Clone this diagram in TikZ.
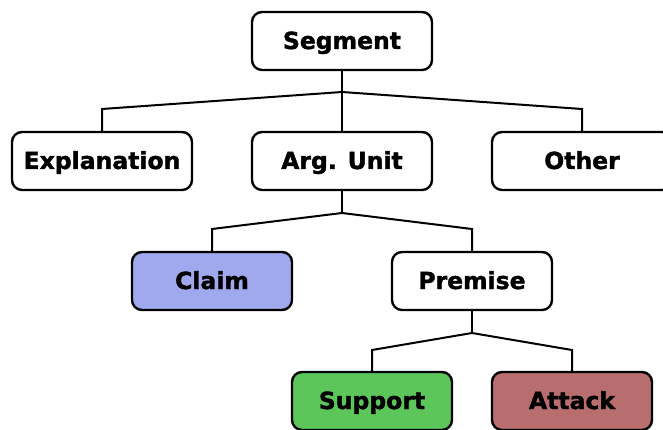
\documentclass[tikz,border=0pt]{standalone}
\usepackage{fontspec}
\setmainfont{DejaVu Sans}
\newfontfamily\boxfont{DejaVu Sans Bold}[FakeBold=1.5]
\usepackage{tikz}
\usetikzlibrary{positioning}

\definecolor{claimblue}{HTML}{A0A8EE}
\definecolor{supportgreen}{HTML}{5CC65A}
\definecolor{attackred}{HTML}{B86E6E}

\tikzset{
  box/.style={draw, line width=2.4pt, rounded corners=10pt, fill=white,
    minimum width=180pt, minimum height=58pt, inner sep=0pt,
    text height=19pt, text depth=3pt,
    font=\fontsize{23.5}{28}\boxfont},
  smallbox/.style={box, minimum width=160pt},
  link/.style={line width=2pt}
}

\begin{document}
\begin{tikzpicture}[x=1pt,y=-1pt]
\useasboundingbox (0,0) rectangle (663,430);
\clip (0,0) rectangle (663,430);

\draw (342,41)  node (11) [box]      {Segment};

\draw (102,161) node (21) [box]      {Explanation};
\draw (342,161) node (22) [box]      {Arg. Unit};
\draw (582,161) node (23) [box]      {Other};
\coordinate (1j) at (342,92);
\coordinate (1a) at (102,109);
\coordinate (1b) at (582,109);
\draw[link] (11) -- (1j) -- (22);
\draw[link] (1j) -- (1a) -- (21);
\draw[link] (1j) -- (1b) -- (23);

\draw (212,281) node (31) [smallbox, fill=claimblue] {Claim};
\draw (472,281) node (32) [smallbox]                 {Premise};
\coordinate (2j) at (342,213);
\coordinate (2a) at (212,229);
\coordinate (2b) at (472,229);
\draw[link] (22) -- (2j);
\draw[link] (2j) -- (2a) -- (31);
\draw[link] (2j) -- (2b) -- (32);

\draw (372,401) node (41) [smallbox, fill=supportgreen] {Support};
\draw (572,401) node (42) [smallbox, fill=attackred]    {Attack};
\coordinate (3j) at (472,333);
\coordinate (3a) at (372,350);
\coordinate (3b) at (572,350);
\draw[link] (32) -- (3j);
\draw[link] (3j) -- (3a) -- (41);
\draw[link] (3j) -- (3b) -- (42);

\end{tikzpicture}
\end{document}
